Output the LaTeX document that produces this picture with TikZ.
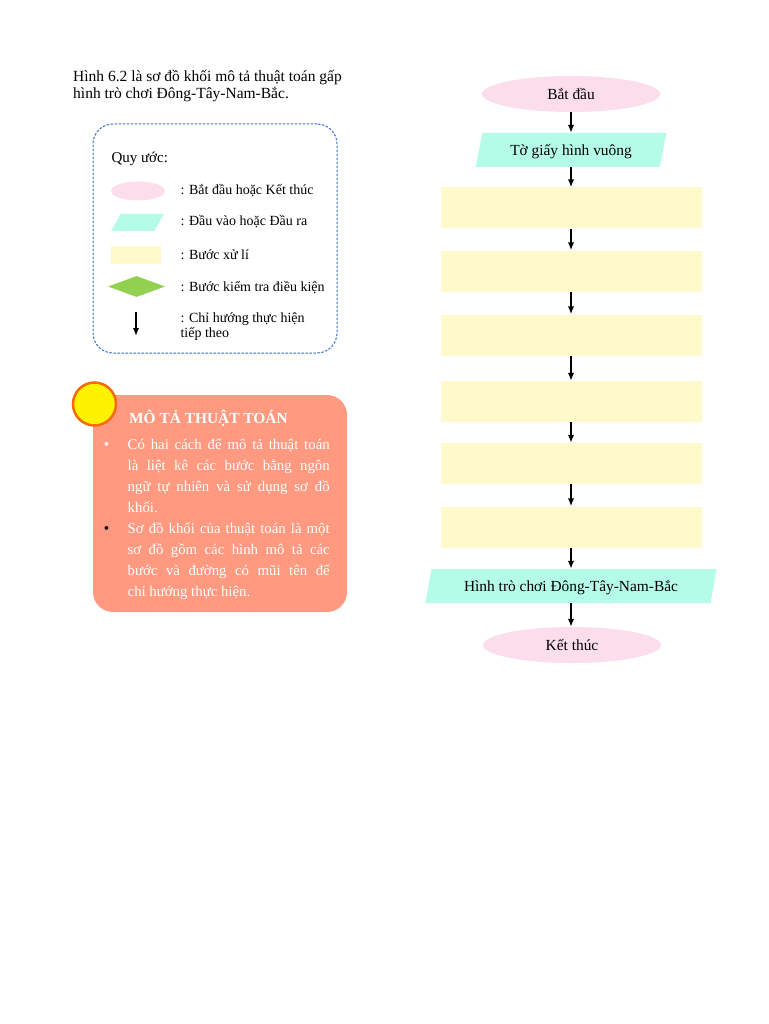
\documentclass[tikz,border=0pt]{standalone}
\usepackage{fontspec}
\setmainfont{Liberation Serif}
\usetikzlibrary{shapes.geometric,arrows.meta,positioning}
\definecolor{termpink}{HTML}{FCDDEB}
\definecolor{iocyan}{HTML}{B4FCE8}
\definecolor{procyellow}{HTML}{FFF9CC}
\definecolor{testgreen}{HTML}{92D050}
\definecolor{legendblue}{HTML}{3B6FD0}
\definecolor{notesalmon}{HTML}{FF9980}
\definecolor{sunorange}{HTML}{F56A0A}

\begin{document}
\begin{tikzpicture}[x=1pt, y=-1pt, font=\fontsize{15.4}{17}\selectfont,
  term/.style={ellipse, fill=termpink, minimum width=178pt, minimum height=36pt, inner sep=0pt,
    text height=13pt, text depth=2pt},
  io/.style={trapezium, trapezium left angle=73, trapezium right angle=107,
    trapezium stretches=true, fill=iocyan, minimum height=34pt, inner sep=0pt,
    text height=13pt, text depth=2pt},
  proc/.style={rectangle, fill=procyellow, minimum width=261pt, minimum height=41pt, inner sep=0pt},
  arr/.style={-{Latex[length=8pt,width=6.5pt]}, line width=2pt},
  lgtext/.style={anchor=west, font=\fontsize{14}{15}\selectfont, align=left},
  para/.style={anchor=north west, text width=202pt, align=justify, text=white, inner sep=0pt,
    font=\fontsize{14.8}{21}\selectfont}]
  \useasboundingbox (0,0) rectangle (768,1024);

  % caption
  \node[anchor=north west, align=left, inner sep=0pt, font=\fontsize{15.5}{17}\selectfont] (caption) at (73,70)
    {Hình 6.2 là sơ đồ khối mô tả thuật toán gấp\\hình trò chơi Đông-Tây-Nam-Bắc.};

  % legend
  \node[draw=legendblue, dash pattern=on 2.5pt off 1.5pt, line width=1pt, rounded corners=20pt,
    minimum width=244pt, minimum height=229pt] (legend) at (215,238.5) {};
  \node[lgtext, font=\fontsize{15}{17}\selectfont] (lgtitle) at (108,159) {Quy ước:};
  \node[ellipse, fill=termpink, minimum width=54pt, minimum height=19pt, inner sep=0pt] (lgterm) at (138,191) {};
  \node[trapezium, trapezium left angle=73, trapezium right angle=107, trapezium stretches=true,
    fill=iocyan, minimum width=53pt, minimum height=17pt, inner sep=2pt] (lgio) at (137.5,222.5) {\phantom{x}};
  \node[fill=procyellow, minimum width=50pt, minimum height=18pt, inner sep=0pt] (lgproc) at (136,255) {};
  \node[diamond, aspect=2.7, fill=testgreen, minimum width=57pt, minimum height=21pt, inner sep=0pt] (lgtest) at (136.5,286.5) {};
  \coordinate (lgfrom) at (136,312);
  \coordinate (lgto) at (136,336);
  \draw[arr] (lgfrom) -- (lgto);
  \node[lgtext] (lgt1) at (177,191) {: Bắt đầu hoặc Kết thúc};
  \node[lgtext] (lgt2) at (177,222) {: Đầu vào hoặc Đầu ra};
  \node[lgtext] (lgt3) at (177,255) {: Bước xử lí};
  \node[lgtext] (lgt4) at (177,288) {: Bước kiểm tra điều kiện};
  \node[lgtext] (lgt5) at (177,326.5) {: Chỉ hướng thực hiện\\tiếp theo};

  % note box
  \node[fill=notesalmon, rounded corners=20pt, minimum width=254pt, minimum height=217pt] (note) at (220,503.5) {};
  \node[circle, fill=yellow, draw=sunorange, line width=2.5pt, minimum size=43pt, inner sep=0pt] (sun) at (94.5,404) {};
  \node[anchor=base west, text=white, font=\fontsize{15.4}{17}\selectfont\bfseries, inner sep=0pt] (notetitle) at (129,423) {MÔ TẢ THUẬT TOÁN};
  \node[para] (desc1) at (127.5,439)
    {\hyphenpenalty=10000\relax Có hai cách để mô tả thuật toán\linebreak là liệt kê các bước bằng ngôn\linebreak ngữ tự nhiên và sử dụng sơ đồ\linebreak khối.};
  \node[para] (desc2) at (127.5,523)
    {\hyphenpenalty=10000\relax Sơ đồ khối của thuật toán là một\linebreak sơ đồ gồm các hình mô tả các\linebreak bước và đường có mũi tên để\linebreak chỉ hướng thực hiện.};
  \node[text=white, inner sep=0pt] (dot1) at (106.5,446) {\textbullet};
  \node[inner sep=0pt] (dot2) at (106.5,530) {\textbullet};

  % flowchart
  \node[term] (start) at (571,94) {Bắt đầu};
  \node[io, minimum width=191pt] (paper) at (571,150) {Tờ giấy hình vuông};
  \foreach \n/\y in {1/208, 2/271, 3/335, 4/401.5, 5/463.5, 6/527}
    \node[proc] (step\n) at (571,\y) {};
  \node[io, minimum width=292pt] (result) at (571,586) {Hình trò chơi Đông-Tây-Nam-Bắc};
  \node[term] (stop) at (572,645) {Kết thúc};

  \draw[arr] (start.south) -- (start.south |- paper.north);
  \draw[arr] (paper.south) -- (paper.south |- step1.north);
  \foreach \a/\b in {1/2, 2/3, 3/4, 4/5, 5/6}
    \draw[arr] (step\a.south) -- (step\a.south |- step\b.north);
  \draw[arr] (step6.south) -- (step6.south |- result.north);
  \draw[arr] (result.south) -- (result.south |- stop.north);
\end{tikzpicture}
\end{document}
